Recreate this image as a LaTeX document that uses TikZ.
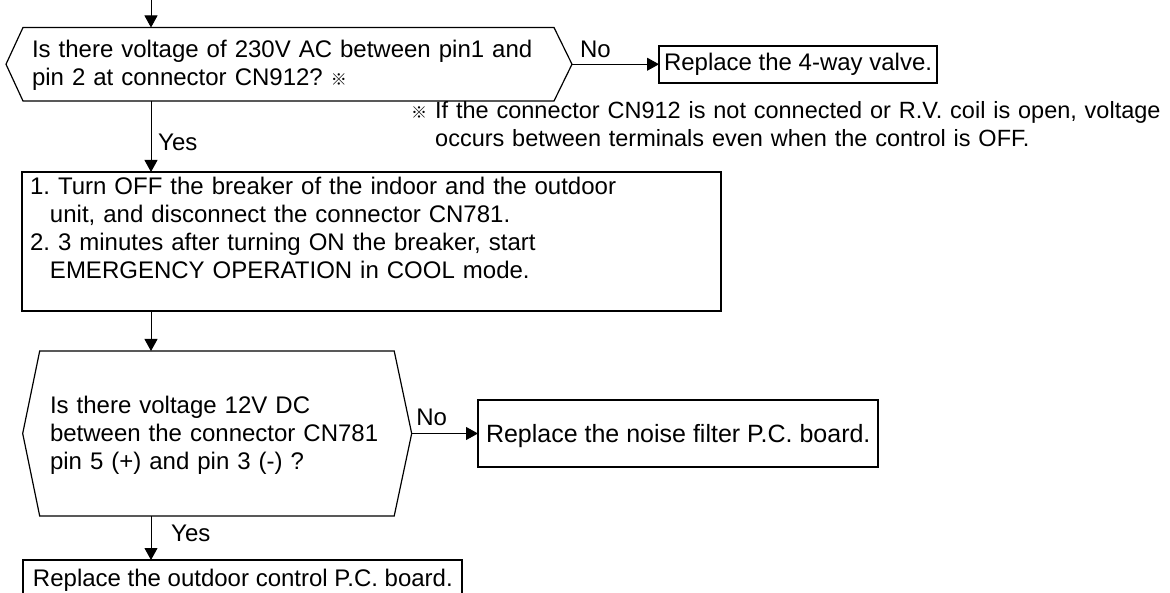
\documentclass[tikz,border=0pt]{standalone}
\usepackage{fontspec}
\setmainfont{Liberation Sans}
\newfontfamily\cjk{Noto Sans CJK JP}
\usetikzlibrary{arrows.meta}
\newcommand\refmark{{\cjk\fontsize{16}{16}\selectfont ※}}
\frenchspacing
\begin{document}
\begin{tikzpicture}[x=1pt,y=-1pt,line join=miter,
  txt/.style={font=\fontsize{24}{28}\selectfont, align=left},
  hexin/.style={txt, draw=none, outer sep=0pt, inner ysep=0pt},
  hexline/.style={draw, line width=1.2pt},
  stepbox/.style={txt, draw, line width=1.3pt, outer sep=0pt},
  result/.style={txt, draw, line width=2pt, outer sep=0pt},
  lbl/.style={font=\fontsize{24}{28}\selectfont, inner sep=0pt},
  arr/.style={draw, line width=1pt, -{Triangle[length=12pt,width=13pt]}}]
\useasboundingbox (0,0) rectangle (1170,593);
\clip (0,0) rectangle (1170,593);
\coordinate (in) at (151,0);
\coordinate (col) at (151,0);

% first decision
\node[hexin, anchor=north west, text width=514pt, inner xsep=26pt,
      text height=30pt, text depth=43.5pt] (d1) at (6,27.5)
  {Is there voltage of 230V AC between pin1 and\\pin 2 at connector CN912? \refmark};
\draw[hexline] (d1.west) -- ([xshift=17pt]d1.north west) -- ([xshift=-18pt]d1.north east)
  -- (d1.east) -- ([xshift=-18pt]d1.south east) -- ([xshift=17pt]d1.south west) -- cycle;
\draw[arr] (in) -- (in |- d1.north);

% replace 4-way valve
\node[result, anchor=west, inner xsep=5pt, minimum height=37pt] (r1) at (659,64.25)
  {Replace the 4-way valve.};
\draw[arr] (d1.east) -- node[lbl, above, pos=0.27, inner sep=6pt] (no1) {No} (r1.west);

% note
\node[txt, font=\fontsize{23.5}{28}\selectfont, anchor=base west, inner sep=0pt, text width=800pt] (note) at (411,119)
  {\makebox[24pt][l]{\refmark}If the connector CN912 is not connected or R.V. coil is open, voltage\\
   \hspace*{24pt}occurs between terminals even when the control is OFF.};

% steps
\node[stepbox, anchor=north west, text width=683pt, inner xsep=8pt, inner ysep=0pt,
      text height=22.3pt, text depth=116.7pt] (s1) at (22,172)
  {1. Turn OFF the breaker of the indoor and the outdoor\\
   \hspace*{20pt}unit, and disconnect the connector CN781.\\
   2. 3 minutes after turning ON the breaker, start\\
   \hspace*{20pt}EMERGENCY OPERATION in COOL mode.};
\draw[arr] (d1.south -| col) -- (s1.north -| col);
\node[lbl, anchor=base west] (yes1) at (158,151) {Yes};

% second decision
\node[hexin, anchor=north west, text width=334.4pt, inner xsep=27.3pt,
      text height=62.3pt, text depth=102.7pt] (d2) at (22.7,351)
  {Is there voltage 12V DC\\between the connector CN781\\pin 5 (+) and pin 3 (-) ?};
\draw[hexline] (d2.west) -- ([xshift=17pt]d2.north west) -- ([xshift=-17.5pt]d2.north east)
  -- (d2.east) -- ([xshift=-17.5pt]d2.south east) -- ([xshift=17pt]d2.south west) -- cycle;
\draw[arr] (s1.south -| col) -- (d2.north -| col);

% noise filter
\node[result, anchor=west, font=\fontsize{25}{30}\selectfont, inner xsep=8pt, inner ysep=0pt,
      text height=42.3pt, text depth=23.7pt] (r2) at (478,433.5)
  {Replace the noise filter P.C. board.};
\draw[arr] (d2.east) -- node[lbl, above, pos=0.30, inner sep=7pt] (no2) {No} (r2.west);

% outdoor control board
\node[result, anchor=north west, minimum width=439pt, inner xsep=0pt, inner ysep=0pt,
      text height=26.7pt, text depth=20pt] (r3) at (23.4,560)
  {Replace the outdoor control P.C. board.};
\draw[arr] (d2.south -| col) -- (r3.north -| col);
\node[lbl, anchor=base west] (yes2) at (171,541.7) {Yes};
\end{tikzpicture}
\end{document}
